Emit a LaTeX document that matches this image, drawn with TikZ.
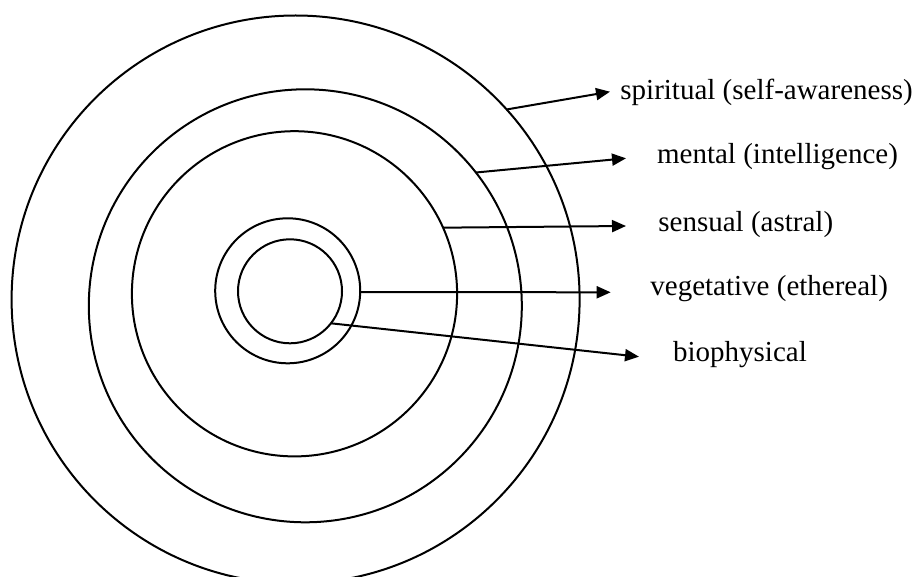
\documentclass[tikz,border=0pt]{standalone}
\usepackage{fontspec}
\setmainfont{Liberation Serif}
\usetikzlibrary{arrows.meta}
\begin{document}
\begin{tikzpicture}[x=0.5pt,y=-0.5pt,
  ring/.style={draw, circle, inner sep=0pt, outer sep=0pt, line width=1pt},
  lbl/.style={anchor=base west, inner sep=0pt, font=\fontsize{14.5}{17}\selectfont},
  pointer/.style={line width=1pt, -{Triangle[length=7pt,width=6pt]}}]
\useasboundingbox (0,0) rectangle (914,577);
% concentric circles
\node[ring, minimum size=284pt] (c1) at (295.6,299.5) {};
\node[ring, minimum size=216.5pt] (c2) at (305.3,305.8) {};
\node[ring, minimum size=162.6pt] (c3) at (294.5,293.8) {};
\node[ring, minimum size=72.5pt] (c4) at (287.7,290.8) {};
\node[ring, minimum size=52pt] (c5) at (290,291.3) {};
% labels
\node[lbl] (t1) at (620,99.3) {spiritual (self-awareness)};
\node[lbl] (t2) at (656.7,163.3) {mental (intelligence)};
\node[lbl] (t3) at (658,231.7) {sensual (astral)};
\node[lbl] (t4) at (650,295) {vegetative (ethereal)};
\node[lbl] (t5) at (672.7,361.7) {biophysical};
% arrow tips
\coordinate (p1) at (610,91.7);
\coordinate (p2) at (626,158.3);
\coordinate (p3) at (626,226);
\coordinate (p4) at (610.7,292.3);
\coordinate (p5) at (639,356.7);
% connectors
\draw[pointer] (c1.42.5) -- (p1);
\draw[pointer] (c2.38.5) -- (p2);
\draw[pointer] (c3.24.7) -- (p3);
\draw[pointer] (c4.-1.2) -- (p4);
\draw[pointer] (c5.-38.3) -- (p5);
\end{tikzpicture}
\end{document}
